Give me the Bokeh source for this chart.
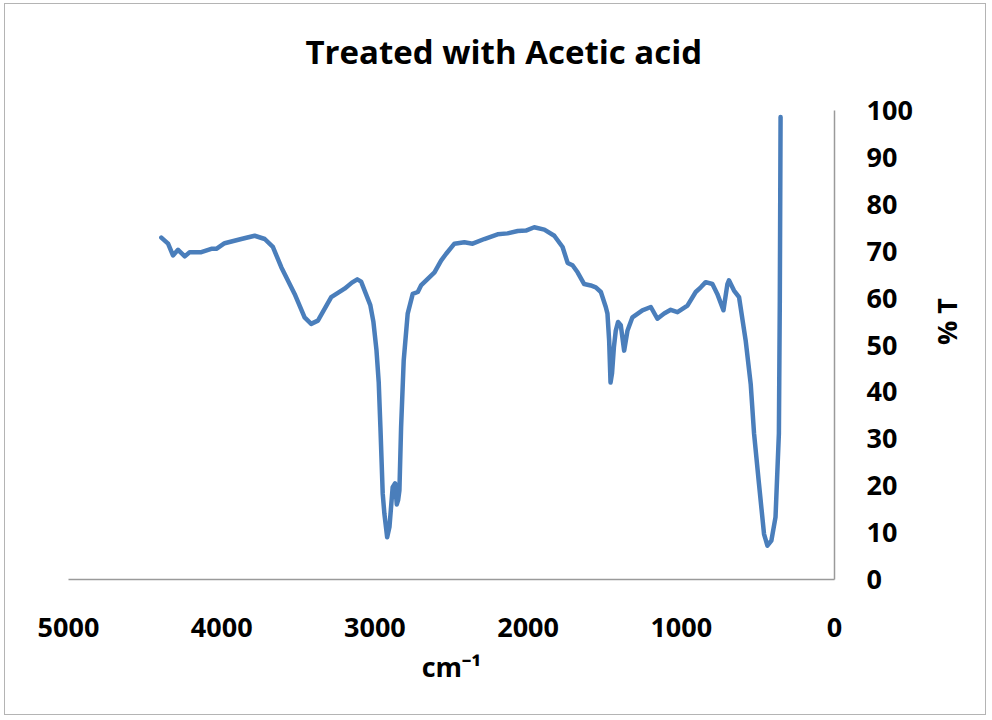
import math
from bokeh.plotting import figure
from bokeh.models import ColumnDataSource, LinearAxis, FixedTicker, Range1d, Title
from bokeh.embed import file_html
from bokeh.resources import INLINE

# wavenumber (cm-1) and %T
wavenumber = [4394, 4350, 4318, 4285, 4241, 4209, 4133, 4068, 4035, 3981, 3872, 3785,
              3719, 3666, 3611, 3524, 3459, 3416, 3372, 3285, 3198, 3150, 3115, 3090,
              3060, 3030, 3010, 2990, 2975, 2964, 2949, 2938, 2920, 2905, 2884, 2868,
              2857, 2848, 2840, 2829, 2812, 2786, 2753, 2720, 2699, 2655, 2611, 2568,
              2536, 2481, 2416, 2362, 2286, 2199, 2134, 2068, 2014, 1960, 1894, 1829,
              1775, 1742, 1710, 1677, 1634, 1591, 1558, 1525, 1493, 1482, 1471, 1462,
              1452, 1440, 1428, 1413, 1395, 1373, 1351, 1319, 1254, 1199, 1156, 1112,
              1069, 1025, 960, 906, 873, 841, 797, 765, 725, 699, 689, 656, 623, 580,
              547, 525, 493, 460, 438, 412, 385, 363, 357, 352]
transmittance = [72.9, 71.6, 69.1, 70.3, 68.9, 69.8, 69.8, 70.5, 70.5, 71.7, 72.6, 73.3,
                 72.6, 70.9, 66.6, 60.9, 55.9, 54.5, 55.2, 60.2, 62.0, 63.3, 64.0, 63.5,
                 61.0, 58.5, 55.0, 49.0, 42.0, 32.5, 18.3, 14.0, 9.0, 11.2, 19.7, 20.5,
                 16.0, 17.0, 19.0, 32.5, 46.7, 56.7, 60.9, 61.3, 62.7, 64.1, 65.5, 68.0,
                 69.4, 71.6, 71.9, 71.6, 72.6, 73.6, 73.8, 74.3, 74.4, 75.1, 74.6, 73.3,
                 70.9, 67.5, 67.0, 65.5, 63.0, 62.7, 62.3, 61.3, 58.1, 56.7, 51.0, 42.0,
                 44.0, 49.5, 53.0, 54.9, 54.2, 48.8, 53.1, 55.9, 57.4, 58.1, 55.6, 56.7,
                 57.5, 57.0, 58.4, 61.3, 62.3, 63.4, 63.0, 60.9, 57.4, 63.0, 63.8, 61.6,
                 60.2, 51.0, 41.7, 31.1, 20.4, 9.7, 7.2, 8.3, 13.3, 31.1, 59.5, 98.6]

x_ticks = [5000, 4000, 3000, 2000, 1000, 0]
y_ticks = [0, 10, 20, 30, 40, 50, 60, 70, 80, 90, 100]

FONT = "Open Sans"
AXIS_GRAY = "#9a9a9a"

p = figure(width=982, height=712, output_backend="svg", toolbar_location=None,
           x_range=Range1d(5000, 0), y_range=Range1d(0, 100),
           x_axis_location=None, y_axis_location=None,
           min_border_left=63, min_border_right=153, min_border_top=106,
           min_border_bottom=137)
p.styles = {"border": "1px solid #b4b4b4", "margin-left": "4px", "margin-top": "3px"}
p.outline_line_color = None
p.xgrid.visible = False
p.ygrid.visible = False

title = Title(text="Treated with Acetic acid", align="left", offset=237,
              text_font=FONT, text_font_size="33px", text_font_style="bold",
              text_color="#000000", standoff=56)
try:
    title.padding = (0, 0, 0, 18)   # extra room under the title text
    title.standoff = 38
except Exception:
    pass
p.title = title

xa = LinearAxis(ticker=FixedTicker(ticks=x_ticks), axis_label="cm⁻¹")
ya = LinearAxis(ticker=FixedTicker(ticks=y_ticks), axis_label="% T")
for ax in (xa, ya):
    ax.axis_line_color = AXIS_GRAY
    ax.axis_line_width = 1.5
    ax.major_tick_line_color = None
    ax.minor_tick_line_color = None
    ax.major_tick_out = 0
    ax.major_tick_in = 0
    ax.major_label_text_font = FONT
    ax.major_label_text_font_size = "27px"
    ax.major_label_text_font_style = "bold"
    ax.major_label_text_color = "#000000"
    ax.axis_label_text_font = FONT
    ax.axis_label_text_font_size = "27px"
    ax.axis_label_text_font_style = "bold"
    ax.axis_label_text_color = "#000000"
xa.major_label_standoff = 38
xa.axis_label_standoff = 8
ya.major_label_standoff = 32
ya.axis_label_standoff = 31
try:
    ya.axis_label_orientation = math.pi / 2  # read bottom-to-top, as in the reference
except Exception:
    pass
p.add_layout(xa, "below")
p.add_layout(ya, "right")

src = ColumnDataSource(data=dict(x=wavenumber, y=transmittance))
p.line("x", "y", source=src, line_color="#4a7ebb", line_width=4.5,
       line_join="round", line_cap="round")

open("out.html", "w").write(file_html(p, INLINE))
